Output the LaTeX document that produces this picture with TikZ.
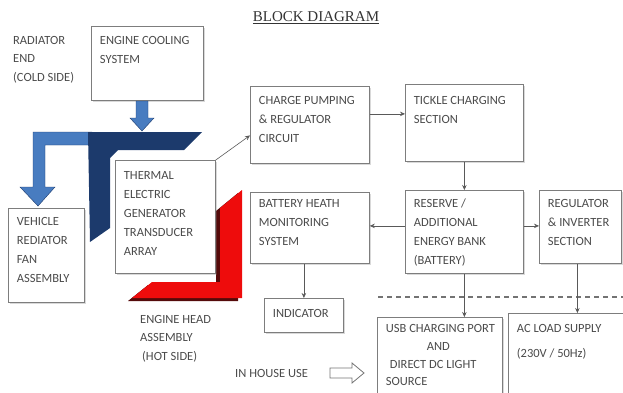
\documentclass[tikz,border=0pt]{standalone}
\usepackage{fontspec}
\setmainfont{Carlito}
\newfontfamily\titlefont{Liberation Serif}
\usetikzlibrary{arrows.meta,shadows}

\definecolor{boxline}{RGB}{125,125,125}
\definecolor{txtgray}{RGB}{75,75,75}
\definecolor{lightblue}{RGB}{72,124,192}
\definecolor{navy}{RGB}{28,58,108}
\definecolor{hotred}{RGB}{238,12,12}
\definecolor{darkred}{RGB}{85,10,10}

% block text: [first baseline]{width}{height}{lines}
\newcommand{\blk}[4][18pt]{\parbox[t][#3][t]{#2}{\raggedright
  \setlength{\leftskip}{8.5pt}\fontsize{12.5}{19}\selectfont\rule{0pt}{#1}#4}}

\begin{document}
\begin{tikzpicture}[
    x=1pt, y=-1pt,
    >={Stealth[length=5pt,width=4.5pt]},
    box/.style={draw=boxline, line width=0.8pt, fill=white, inner sep=0pt,
                anchor=north west, text=txtgray,
                drop shadow={shadow xshift=1.2pt, shadow yshift=-1.2pt, opacity=0.3}},
    lbl/.style={anchor=north west, align=left, inner sep=0pt, text=txtgray,
                font=\fontsize{12.5}{18.5}\selectfont},
    link/.style={->, draw=black!65, line width=0.6pt}
]
\useasboundingbox (0,0) rectangle (623,392);
\clip (0,0) rectangle (623,392);

% Title
\node[font=\titlefont\fontsize{15}{18}\selectfont, text=black!80] (title) at (316,18) {\underline{BLOCK DIAGRAM}};

% Cold side
\node[lbl] (radiatorlbl) at (13,36) {RADIATOR\\END\\(COLD SIDE)};
\node[box] (cooling) at (91,26) {\blk{112pt}{74pt}{ENGINE COOLING\\SYSTEM}};
\node[box] (vehicle) at (8,208) {\blk[17pt]{76pt}{94pt}{VEHICLE\\REDIATOR\\FAN\\ASSEMBLY}};

% Coolant flow
\filldraw[fill=lightblue, draw=navy, line width=0.4pt]
  (33,132) -- (92,132) -- (92,145) -- (45,145) -- (45,187) -- (55,187)
  -- (38,206) -- (20,187) -- (33,187) -- cycle;
\fill[navy] (88,132) -- (202,132) -- (184,150) -- (118,150) -- (110,158)
  -- (110,228) -- (90,242) -- cycle;
\filldraw[fill=lightblue, draw=navy, line width=0.4pt]
  (136,101) -- (148,101) -- (148,118) -- (154,118) -- (142,131) -- (130,118)
  -- (136,118) -- cycle;

% Hot side
\begin{scope}[shift={(-4,3)}]
\fill[darkred] (242,190) -- (242,298) -- (132,298) -- (152,282) -- (220,282) -- (220,208) -- cycle;
\end{scope}
\fill[hotred] (242,190) -- (242,298) -- (132,298) -- (152,282) -- (220,282) -- (220,208) -- cycle;
\node[lbl] (headlbl) at (140,315) {ENGINE HEAD\\ASSEMBLY\\\hspace*{2pt}(HOT SIDE)};

% Generator and charging chain
\node[box] (thermal) at (115,160) {\blk[19pt]{100pt}{113pt}{THERMAL\\ELECTRIC\\GENERATOR\\TRANSDUCER\\ARRAY}};
\node[box] (charge) at (250,86) {\blk[18pt]{119pt}{77pt}{CHARGE PUMPING\\\& REGULATOR\\CIRCUIT}};
\node[box] (tickle) at (405,84) {\blk[20pt]{118pt}{77pt}{TICKLE CHARGING\\SECTION}};
\node[box] (reserve) at (405,190) {\blk[17pt]{118pt}{83pt}{RESERVE /\\ADDITIONAL\\ENERGY BANK\\(BATTERY)}};
\node[box] (health) at (250,192) {\blk[15pt]{119pt}{71pt}{BATTERY HEATH\\MONITORING\\SYSTEM}};
\node[box] (regulator) at (539,190) {\blk[17pt]{82pt}{73pt}{REGULATOR\\\& INVERTER\\SECTION}};
\node[box] (indicator) at (264,298) {\blk[19pt]{79pt}{34pt}{INDICATOR}};

% In house use
\draw[dashed, dash pattern=on 5pt off 4pt, draw=black!55, line width=1.1pt] (378,297) -- (623,297);
\node[box] (usb) at (377,317) {\blk[15pt]{125pt}{80pt}{USB CHARGING PORT\\[-1pt]
  \hspace*{41pt}AND\\[-1pt]\hspace*{4pt}DIRECT DC LIGHT\\[-2pt]SOURCE}};
\node[box] (acload) at (508,313) {\blk[19pt]{120pt}{85pt}{AC LOAD SUPPLY\\[6pt](230V / 50Hz)}};
\node[lbl, anchor=west] (houselbl) at (235,373) {IN HOUSE USE};
\draw[draw=black!55, line width=0.8pt] (330,368) -- (352,368) -- (352,363) -- (364,373)
  -- (352,383) -- (352,378) -- (330,378) -- cycle;

% Links
\draw[link] (thermal.north east) -- ([yshift=-10.5pt]charge.west);
\draw[link] ([yshift=11pt]charge.east) -- ([yshift=11pt]charge.east -| tickle.west);
\draw[link] (tickle.south) -- (reserve.north);
\draw[link] ([yshift=6pt]reserve.west) -- ([yshift=6pt]reserve.west -| health.east);
\draw[link] ([yshift=6pt]reserve.east) -- ([yshift=6pt]reserve.east -| regulator.west);
\draw[link] (indicator.north |- health.south) -- (indicator.north);
\draw[link] (reserve.south) -- (reserve.south |- usb.north);
\draw[link] ([xshift=-3pt]regulator.south) -- ([xshift=-3pt]regulator.south |- acload.north);

\end{tikzpicture}
\end{document}
